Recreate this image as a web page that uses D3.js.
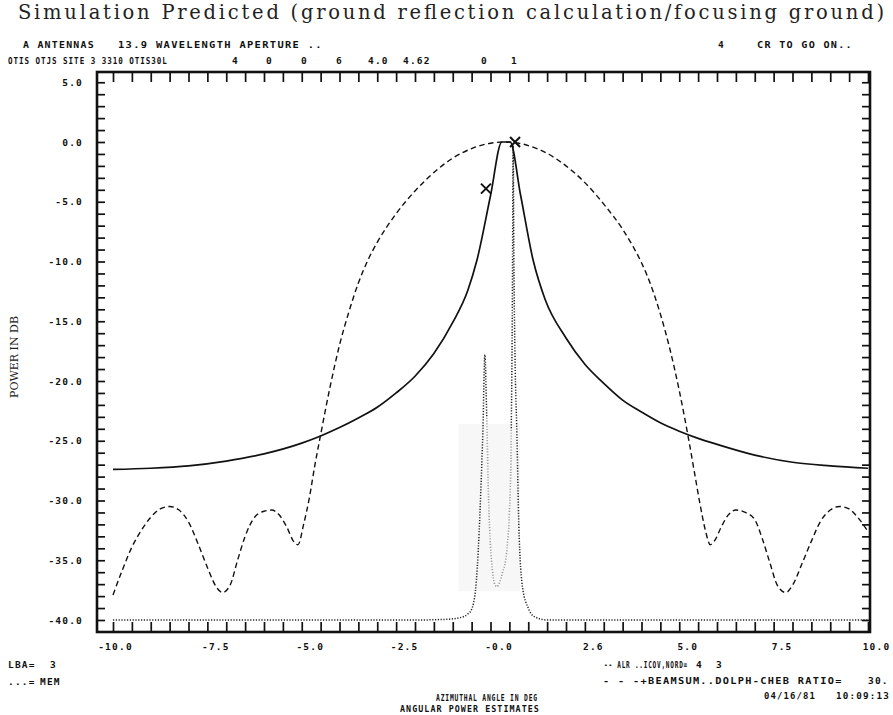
<!DOCTYPE html>
<html>
<head>
<meta charset="utf-8">
<script src="https://cdn.jsdelivr.net/npm/d3@7"></script>
<style>
    body { margin: 0; background: #fff; }
    .plotter { font-family: "DejaVu Sans Mono", monospace; font-weight: bold; font-size: 9.5px; letter-spacing: 1.2px; fill: #111; }
    .typed { font-family: "DejaVu Serif", serif; fill: #222; }
</style>
</head>
<body>
<div id="chart"></div>
<script>

// ALR ..ICOV,NORD (solid)
var solidX = [-10, -9, -8, -7, -6, -5, -4.5, -4, -3.5, -3, -2.5, -2, -1.5, -1, -0.6, -0.36, 0.0, 0.30, 0.52, 0.8, 1.13, 1.45, 2, 2.5, 3, 3.5, 4, 4.5, 5, 5.5, 6, 7, 8, 9, 10];
var solidY = [-27.4, -27.3, -27.1, -26.7, -26.1, -25.2, -24.6, -23.9, -23.1, -22.2, -21.0, -19.6, -17.7, -15.1, -12.4, -9.9, -4.5, 0, 0, -4.5, -9.9, -13.2, -16.4, -18.6, -20.2, -21.6, -22.6, -23.5, -24.2, -24.8, -25.3, -26.2, -26.8, -27.1, -27.3];

// BEAMSUM..DOLPH-CHEB (dashed)
var dashX = [-10, -9.75, -9.5, -9.25, -9.0, -8.75, -8.5, -8.25, -8.0, -7.75, -7.5, -7.25, -7.1, -6.9, -6.7, -6.5, -6.25, -6.0, -5.8, -5.6, -5.4, -5.2, -5.1, -4.95, -4.8, -4.65, -4.5, -4.25, -4.0, -3.75, -3.5, -3.25, -3.0, -2.5, -2.0, -1.5, -1.0, -0.5, 0.0, 0.36, 0.75, 1.0, 1.5, 2.0, 2.5, 3.0, 3.5, 3.75, 4.0, 4.25, 4.5, 4.75, 5.0, 5.25, 5.4, 5.55, 5.7, 5.82, 5.95, 6.1, 6.3, 6.5, 6.75, 7.0, 7.2, 7.4, 7.6, 7.82, 8.0, 8.25, 8.5, 8.75, 9.0, 9.25, 9.5, 9.75, 10.0];
var dashY = [-37.9, -35.8, -33.9, -32.5, -31.4, -30.7, -30.5, -30.8, -31.8, -33.6, -35.6, -37.3, -37.7, -37.1, -35.0, -33.0, -31.4, -30.9, -30.8, -31.2, -32.2, -33.5, -33.7, -32.0, -29.8, -27.0, -24.5, -20.5, -17.0, -14.2, -11.8, -9.9, -8.4, -6.0, -4.1, -2.55, -1.35, -0.55, -0.1, 0, -0.1, -0.3, -0.95, -2.0, -3.4, -5.2, -7.3, -8.6, -10.1, -12.0, -14.4, -17.3, -20.8, -24.9, -27.6, -30.3, -32.6, -33.7, -33.3, -32.3, -31.2, -30.8, -31.0, -31.6, -33.2, -35.2, -37.1, -37.7, -37.1, -35.3, -33.4, -31.7, -30.8, -30.5, -30.7, -31.5, -32.6];

// MEM (dotted)
var memX = [-10, -5, -2, -1.2, -0.8, -0.6, -0.5, -0.45, -0.4, -0.35, -0.3, -0.25, -0.2, -0.15, -0.1, -0.05, 0.0, 0.05, 0.1, 0.17, 0.25, 0.32, 0.4, 0.45, 0.5, 0.55, 0.58, 0.6, 0.62, 0.65, 0.7, 0.75, 0.85, 1.0, 1.15, 1.5, 3, 6, 10];
var memY = [-40, -40, -40, -39.95, -39.8, -39.5, -39.1, -38.6, -37.6, -35.6, -32.6, -28.6, -24.0, -17.8, -23.0, -30.0, -33.8, -35.8, -36.9, -37.2, -36.8, -36.0, -35.0, -33.6, -31.0, -24.0, -13.0, -0.3, -10.0, -18.0, -24.5, -32.0, -37.3, -39.0, -39.7, -40, -40, -40, -40];

// X markers
var markX = [-0.12, 0.65];
var markY = [-3.9, 0.0];

// tick labels
var xTickValues = [-10, -7.5, -5, -2.5, 0, 2.5, 5, 7.5, 10];
var xTickLabels = ["-10.0", "-7.5", "-5.0", "-2.5", "-0.0", "2.6", "5.0", "7.5", "10.0"];
var yTickValues = [5, 0, -5, -10, -15, -20, -25, -30, -35, -40];
var yTickLabels = ["5.0", "0.0", "-5.0", "-10.0", "-15.0", "-20.0", "-25.0", "-30.0", "-35.0", "-40.0"];


PatternVis = function(_parentElement) {
    this.parentElement = _parentElement;
    this.initVis();
};

PatternVis.prototype.initVis = function() {
    var vis = this;

    vis.width = 893;
    vis.height = 715;
    vis.frame = { left: 97, right: 870, top: 72, bottom: 632 };

    vis.svg = d3.select("#" + vis.parentElement).append("svg")
        .attr("width", vis.width)
        .attr("height", vis.height);

    // Scales
    vis.x = d3.scaleLinear()
        .domain([-10, 10])
        .range([113, 868]);

    vis.y = d3.scaleLinear()
        .domain([0, -40])
        .range([142, 620]);

    vis.line = d3.line()
        .curve(d3.curveMonotoneX)
        .x(function(d) { return vis.x(d.x); })
        .y(function(d) { return vis.y(d.y); });

    vis.drawText();
    vis.drawFrame();
    vis.updateVis();
};

PatternVis.prototype.drawText = function() {
    var vis = this;

    vis.svg.append("text")
        .attr("class", "typed")
        .attr("x", 18).attr("y", 19)
        .attr("font-size", 19.5)
        .attr("textLength", 866)
        .attr("lengthAdjust", "spacing")
        .text("Simulation Predicted (ground reflection calculation/focusing ground)");

    vis.svg.append("text")
        .attr("class", "typed")
        .attr("font-size", 11)
        .attr("textLength", 82)
        .attr("transform", "translate(18,357) rotate(-90)")
        .attr("text-anchor", "middle")
        .text("POWER IN DB");

    // plotter annotations: text, x, baseline y, optional width
    var notes = [
        ["A ANTENNAS", 23, 48, 72],
        ["13.9 WAVELENGTH APERTURE ..", 118, 48, 205],
        ["4", 718, 48],
        ["CR TO GO ON..", 757, 48, 96],
        ["OTIS OTJS SITE 3 3310 OTIS30L", 8, 64, 160],
        ["4", 232, 64], ["0", 266, 64], ["0", 301, 64], ["6", 336, 64],
        ["4.0", 368, 64], ["4.62", 403, 64], ["0", 481, 64], ["1", 511, 64],
        ["LBA=", 8, 668], ["3", 50, 668],
        ["...=", 8, 685], ["MEM", 40, 685],
        ["-- ALR ..ICOV,NORD=", 604, 668, 84], ["4", 696, 668], ["3", 716, 668],
        ["- - -+BEAMSUM..DOLPH-CHEB RATIO=", 603, 684, 240], ["30.", 868, 684],
        ["04/16/81", 764, 699, 52], ["10:09:13", 836, 699, 54],
        ["AZIMUTHAL ANGLE IN DEG", 436, 701, 102],
        ["ANGULAR POWER ESTIMATES", 400, 712, 140]
    ];

    vis.svg.append("g").selectAll("text")
        .data(notes)
        .enter().append("text")
        .attr("class", "plotter")
        .text(function(d) { return d[0]; })
        .attr("transform", function(d) {
            var s = 1;
            if (d[3]) s = d[3] / this.getComputedTextLength();
            return "translate(" + d[1] + "," + d[2] + ") scale(" + s + ",1)";
        });
};

PatternVis.prototype.drawFrame = function() {
    var vis = this;
    var f = vis.frame;

    // faint scan smudge around the MEM valley
    vis.svg.append("rect")
        .attr("x", vis.x(-0.85))
        .attr("y", vis.y(-23.6))
        .attr("width", vis.x(0.78) - vis.x(-0.85))
        .attr("height", vis.y(-37.6) - vis.y(-23.6))
        .attr("fill", "#f7f7f7");

    vis.svg.append("rect")
        .attr("x", f.left).attr("y", f.top)
        .attr("width", f.right - f.left)
        .attr("height", f.bottom - f.top)
        .attr("fill", "none")
        .attr("stroke", "#111")
        .attr("stroke-width", 2.6);

    var xMinor = d3.range(-10, 10.001, 0.5);
    var yMinor = d3.range(-40, 5.001, 1);

    function clean(g) {
        g.select(".domain").remove();
        g.selectAll(".tick line").attr("stroke", "#111").attr("stroke-width", 1.7);
    }

    vis.svg.append("g")
        .attr("transform", "translate(0," + f.bottom + ")")
        .call(d3.axisBottom(vis.x).tickValues(xMinor).tickSize(-10).tickFormat(""))
        .call(clean);

    vis.svg.append("g")
        .attr("transform", "translate(0," + f.top + ")")
        .call(d3.axisTop(vis.x).tickValues(xMinor).tickSize(-10).tickFormat(""))
        .call(clean);

    vis.svg.append("g")
        .attr("transform", "translate(" + f.left + ",0)")
        .call(d3.axisLeft(vis.y).tickValues(yMinor).tickSize(-8).tickFormat(""))
        .call(clean);

    vis.svg.append("g")
        .attr("transform", "translate(" + f.right + ",0)")
        .call(d3.axisRight(vis.y).tickValues(yMinor).tickSize(-8).tickFormat(""))
        .call(clean);

    // Tick labels
    vis.svg.append("g")
        .attr("transform", "translate(0," + f.bottom + ")")
        .call(d3.axisBottom(vis.x).tickValues(xTickValues).tickSize(0).tickPadding(11)
            .tickFormat(function(d, i) { return xTickLabels[i]; }))
        .call(function(g) { g.select(".domain").remove(); })
        .selectAll("text")
        .attr("class", "plotter")
        .attr("dx", function(d, i) { return i === 0 ? 2 : 8; });

    vis.svg.append("g")
        .attr("transform", "translate(" + f.left + ",0)")
        .call(d3.axisLeft(vis.y).tickValues(yTickValues).tickSize(0).tickPadding(14)
            .tickFormat(function(d, i) { return yTickLabels[i]; }))
        .call(function(g) { g.select(".domain").remove(); })
        .selectAll("text")
        .attr("class", "plotter");
};

PatternVis.prototype.updateVis = function() {
    var vis = this;

    var solid = solidX.map(function(x, i) { return { x: x, y: solidY[i] }; });
    var dash = dashX.map(function(x, i) { return { x: x, y: dashY[i] }; });
    var mem = memX.map(function(x, i) { return { x: x, y: memY[i] }; });

    vis.svg.append("path")
        .datum(dash)
        .attr("d", vis.line)
        .attr("fill", "none")
        .attr("stroke", "#111")
        .attr("stroke-width", 1.4)
        .attr("stroke-dasharray", "5.5,3.5");

    vis.svg.append("path")
        .datum(mem)
        .attr("d", vis.line)
        .attr("fill", "none")
        .attr("stroke", "#222")
        .attr("stroke-width", 1.5)
        .attr("stroke-dasharray", "1.2,1.6");

    // lighter dots inside the MEM valley
    vis.svg.append("path")
        .datum(mem.filter(function(d) { return d.x >= -0.1 && d.x <= 0.55; }))
        .attr("d", vis.line)
        .attr("fill", "none")
        .attr("stroke", "#fff")
        .attr("stroke-width", 2.2)
        .attr("opacity", 0.55);

    vis.svg.append("path")
        .datum(solid)
        .attr("d", vis.line)
        .attr("fill", "none")
        .attr("stroke", "#111")
        .attr("stroke-width", 1.7);

    // X markers
    var marks = vis.svg.append("g").selectAll("g")
        .data(markX.map(function(x, i) { return { x: x, y: markY[i] }; }))
        .enter().append("g")
        .attr("transform", function(d) { return "translate(" + vis.x(d.x) + "," + vis.y(d.y) + ")"; });

    marks.append("path")
        .attr("d", "M-5,-5L5,5M-5,5L5,-5")
        .attr("stroke", "#111")
        .attr("stroke-width", 2);
};

var patternVis = new PatternVis("chart");

</script>
</body>
</html>
